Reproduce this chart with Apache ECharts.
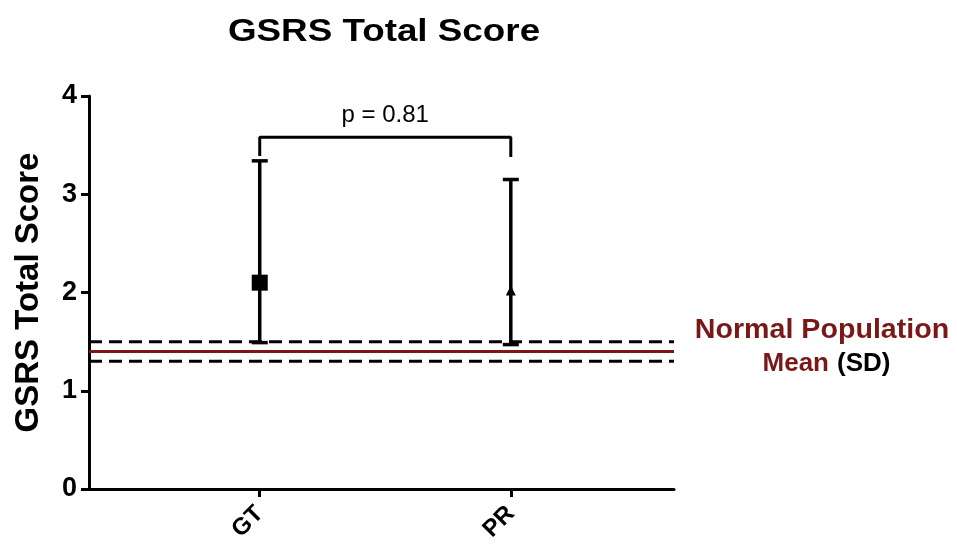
<!DOCTYPE html>
<html><head><meta charset="utf-8">
<script src="https://cdn.jsdelivr.net/npm/echarts@6/dist/echarts.min.js"></script>
<style>html,body{margin:0;padding:0;background:#fff}#c{width:957px;height:555px}</style>
</head><body><div id="c"></div>
<script>
const categories = ['GT', 'PR'];
const means = [2.1, 2.02];
const lowers = [1.49, 1.47];
const uppers = [3.34, 3.15];
const markerSymbols = ['rect', 'triangle'];
const markerSizes = [16, 10];
const popMean = 1.4;
const popLow = 1.3;
const popHigh = 1.5;
const bracketTop = 3.58;
const bracketEnds = [3.39, 3.38];
const pText = 'p = 0.81';
const yTicks = [0, 1, 2, 3, 4];

const font = 'Liberation Sans, Arial, sans-serif';
const red = '#7a1818';
const xMin = -0.68, xMax = 1.65;
const chart = echarts.init(document.getElementById('c'));

const errData = categories.map((c, i) => [i, lowers[i], uppers[i]]);
const meanData = categories.map((c, i) => ({value: [i, means[i]], symbol: markerSymbols[i], symbolSize: markerSizes[i]}));

chart.setOption({
  animation: false,
  grid: {left: 89, right: 283, top: 96, bottom: 66},
  xAxis: {type: 'value', min: xMin, max: xMax, splitLine: {show: false},
    axisLine: {onZero: false, lineStyle: {color: '#000', width: 3}},
    axisTick: {show: true, customValues: [0, 1], length: 8, lineStyle: {color: '#000', width: 3}},
    axisLabel: {customValues: [0, 1], formatter: v => categories[Math.round(v)], rotate: 45, margin: 21,
      fontFamily: font, fontWeight: 'bold', fontSize: 24, color: '#000'}},
  yAxis: {type: 'value', min: 0, max: 4, interval: 1, splitLine: {show: false},
    name: 'GSRS Total Score', nameLocation: 'middle', nameGap: 44,
    nameTextStyle: {fontFamily: font, fontWeight: 'bold', fontSize: 33, color: '#000'},
    axisLine: {show: true, onZero: false, lineStyle: {color: '#000', width: 3}},
    axisTick: {show: true, length: 8, lineStyle: {color: '#000', width: 3}},
    axisLabel: {fontFamily: font, fontWeight: 'bold', fontSize: 27, color: '#000', margin: 12,
      formatter: v => yTicks.includes(v) ? String(v) : ''}},
  series: [
    {type: 'line', data: [[xMin, popHigh], [xMax, popHigh]], symbol: 'none', lineStyle: {color: '#000', width: 3, type: [13, 7]}, z: 2},
    {type: 'line', data: [[xMin, popLow], [xMax, popLow]], symbol: 'none', lineStyle: {color: '#000', width: 3, type: [13, 7]}, z: 2},
    {type: 'line', data: [[xMin, popMean], [xMax, popMean]], symbol: 'none', lineStyle: {color: red, width: 3}, z: 2},
    {type: 'custom', data: errData, z: 5,
      renderItem: (params, api) => {
        const x = api.value(0);
        const lo = api.coord([x, api.value(1)]);
        const hi = api.coord([x, api.value(2)]);
        const hw = 8;
        const st = {stroke: '#000', lineWidth: 3.5};
        return {type: 'group', children: [
          {type: 'line', shape: {x1: lo[0], y1: lo[1], x2: hi[0], y2: hi[1]}, style: st},
          {type: 'line', shape: {x1: lo[0] - hw, y1: lo[1], x2: lo[0] + hw, y2: lo[1]}, style: st},
          {type: 'line', shape: {x1: hi[0] - hw, y1: hi[1], x2: hi[0] + hw, y2: hi[1]}, style: st}
        ]};
      }},
    {type: 'scatter', data: meanData, itemStyle: {color: '#000', opacity: 1}, z: 6},
    {type: 'line', data: [[0, bracketEnds[0]], [0, bracketTop], [1, bracketTop], [1, bracketEnds[1]]],
      symbol: 'none', lineStyle: {color: '#000', width: 3}, z: 4},
    {type: 'scatter', data: [[0.5, bracketTop]], symbolSize: 0, itemStyle: {opacity: 1, color: '#000'},
      label: {show: true, position: 'top', distance: 10, formatter: pText, fontFamily: font, fontSize: 24, color: '#000', opacity: 1}}
  ],
  graphic: [
    {type: 'text', x: 384, y: 16, scaleX: 1.15, style: {text: 'GSRS Total Score', textAlign: 'center',
      font: 'bold 32px ' + font, fill: '#000'}},
    {type: 'text', x: 822, y: 317, scaleX: 1.06, style: {text: 'Normal Population', textAlign: 'center',
      font: 'bold 27px ' + font, fill: red}},
    {type: 'text', x: 829, y: 351, style: {text: 'Mean', textAlign: 'right',
      font: 'bold 26px ' + font, fill: red}},
    {type: 'text', x: 837, y: 351, style: {text: '(SD)', textAlign: 'left',
      font: 'bold 26px ' + font, fill: '#000'}}
  ]
});
</script></body></html>
